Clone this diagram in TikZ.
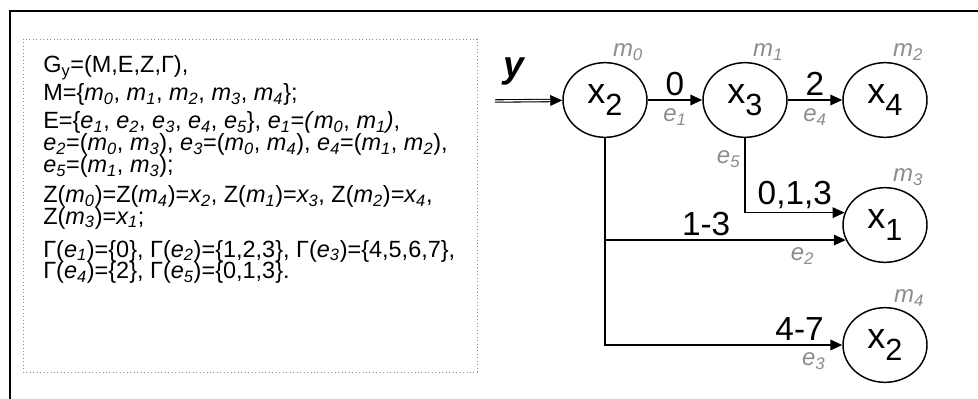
\documentclass[tikz,border=0pt]{standalone}
\usepackage{fontspec}
\setmainfont{Liberation Sans}
\usetikzlibrary{arrows.meta,calc,shapes.geometric}
\definecolor{lblgray}{RGB}{140,140,140}
\newcommand{\iv}[2]{\textit{#1\textsubscript{#2}}}
\newcommand{\xsub}[1]{x\raisebox{-9pt}{\fontsize{23}{23}\selectfont #1}}
\tikzset{
  stav/.style={ellipse,draw,line width=1.1pt,minimum width=63pt,minimum height=56pt,inner sep=0pt,font=\fontsize{27}{27}\selectfont},
  sip/.style={-{Triangle[length=9pt,width=8pt]},line width=1.1pt},
  vaha/.style={font=\fontsize{25}{25}\selectfont,inner sep=2.5pt},
  znak/.style={text=lblgray,font=\fontsize{18}{18}\selectfont\itshape,inner sep=1pt},
  popis/.style={anchor=base west,inner sep=0pt,font=\fontsize{17.6}{17.6}\selectfont},
}
\begin{document}
\begin{tikzpicture}[x=0.75pt,y=-0.75pt]
  \useasboundingbox (0,0) rectangle (978,399);
  % frame
  \draw[line width=1.5pt] (978,11) -- (10,11) -- (10,399);
  % definition box
  \draw[lblgray,dotted,line width=0.6pt] (23,39) rectangle (477,372);
  \node[popis] (l1) at (43,73) {G\textsubscript{y}=(M,E,Z,Γ),};
  \node[popis] (l2) at (43,101) {M=\{\iv{m}{0}, \iv{m}{1}, \iv{m}{2}, \iv{m}{3}, \iv{m}{4}\};};
  \node[popis] (l3) at (43,129) {E=\{\iv{e}{1}, \iv{e}{2}, \iv{e}{3}, \iv{e}{4}, \iv{e}{5}\}, \iv{e}{1}=\textit{(}\iv{m}{0}, \iv{m}{1}\textit{)},};
  \node[popis] (l4) at (43,151) {\iv{e}{2}=(\iv{m}{0}, \iv{m}{3}), \iv{e}{3}=(\iv{m}{0}, \iv{m}{4}), \iv{e}{4}=(\iv{m}{1}, \iv{m}{2}),};
  \node[popis] (l5) at (43,172.7) {\iv{e}{5}=(\iv{m}{1}, \iv{m}{3});};
  \node[popis] (l6) at (43,203) {Z(\iv{m}{0})=Z(\iv{m}{4})=\iv{x}{2}, Z(\iv{m}{1})=\iv{x}{3}, Z(\iv{m}{2})=\iv{x}{4},};
  \node[popis] (l7) at (43,224.3) {Z(\iv{m}{3})=\iv{x}{1};};
  \node[popis] (l8) at (43,257) {Γ(\iv{e}{1})=\{0\}, Γ(\iv{e}{2})=\{1,2,3\}, Γ(\iv{e}{3})=\{4,5,6,7\},};
  \node[popis] (l9) at (43,278.7) {Γ(\iv{e}{4})=\{2\}, Γ(\iv{e}{5})=\{0,1,3\}.};
  % states
  \node[stav] (x2) at (605,100) {\xsub{2}};
  \node[stav] (x3) at (745,100) {\xsub{3}};
  \node[stav] (x4) at (885,100) {\xsub{4}};
  \node[stav] (x1) at (885,225) {\xsub{1}};
  \node[stav] (x2b) at (885,345) {\xsub{2}};
  \node[znak] (m0) at ($(x2)+(23,-48)$) {m\textsubscript{0}};
  \node[znak] (m1) at ($(x3)+(23,-48)$) {m\textsubscript{1}};
  \node[znak] (m2) at ($(x4)+(23,-48)$) {m\textsubscript{2}};
  \node[znak] (m3) at ($(x1)+(23,-48)$) {m\textsubscript{3}};
  \node[znak] (m4) at ($(x2b)+(24,-47)$) {m\textsubscript{4}};
  % input
  \coordinate (vstup) at (495,101);
  \node[font=\fontsize{28}{28}\selectfont\bfseries\itshape,inner sep=0pt] (ylab) at (514,72) {y};
  \draw[double,line width=0.8pt,double distance=1pt,-{Triangle[length=9pt,width=8pt]}] (vstup) -- (x2);
  % edges
  \draw[sip] (x2) -- node[vaha,above]{0} node[znak,below=5pt]{e\textsubscript{1}} (x3);
  \draw[sip] (x3) -- node[vaha,above]{2} node[znak,below=5pt]{e\textsubscript{4}} (x4);
  \draw[sip] (x3) |- node[znak,pos=0.14,left=2pt]{e\textsubscript{5}} node[vaha,pos=0.75,above]{0,1,3} (x1.163);
  \draw[sip] (x2) |- node[vaha,pos=0.71,above]{1-3} node[znak,pos=0.91,below=4pt]{e\textsubscript{2}} (x1.201);
  \draw[sip] (x2) |- node[vaha,pos=0.91,above]{4-7} node[znak,pos=0.94,below=4pt]{e\textsubscript{3}} (x2b);
\end{tikzpicture}
\end{document}
